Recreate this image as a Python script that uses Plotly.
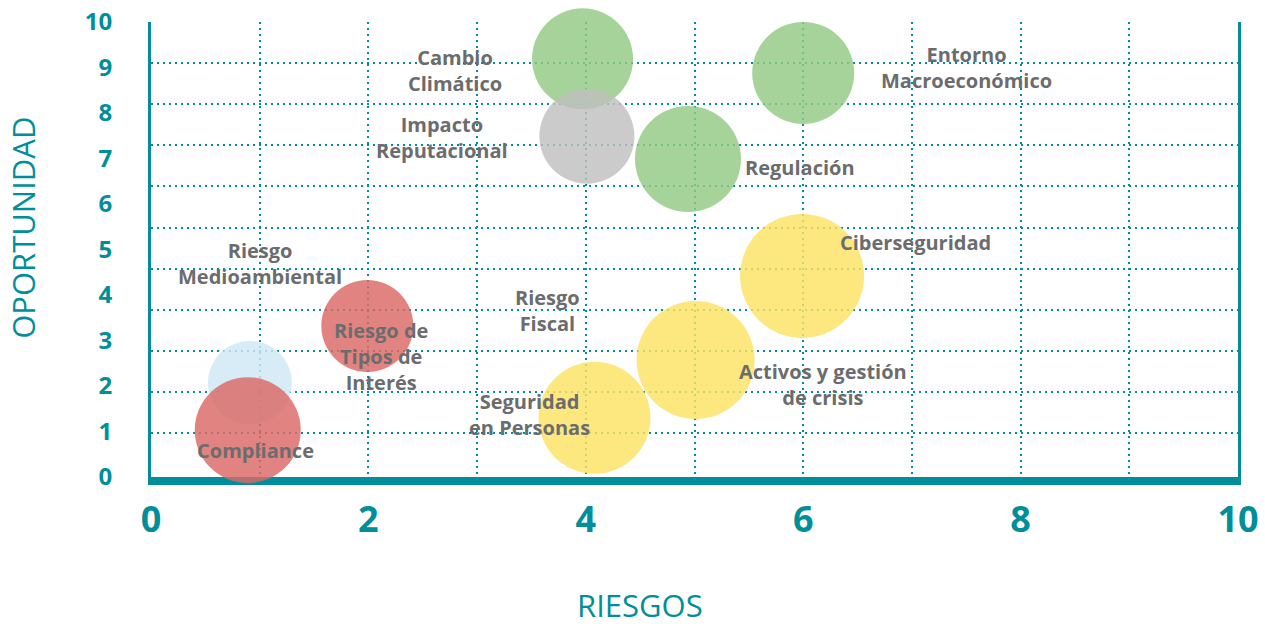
import plotly.graph_objects as go

# ---- data ----
risk_names = ["Riesgo Medioambiental", "Compliance", "Riesgo de Tipos de Interés",
              "Seguridad en Personas", "Activos y gestión de crisis", "Ciberseguridad",
              "Regulación", "Entorno Macroeconómico", "Cambio Climático",
              "Impacto Reputacional"]
riesgos = [0.91, 0.89, 1.99, 4.08, 5.01, 5.99, 4.94, 6.0, 3.97, 4.01]
oportunidad = [2.07, 1.03, 3.32, 1.30, 2.57, 4.42, 6.99, 8.88, 9.19, 7.49]
bubble_size = [84, 106, 92, 112, 118, 124, 106, 102, 101, 95]
group = ["azul", "rojo", "rojo", "amarillo", "amarillo", "amarillo",
         "verde", "verde", "verde", "gris"]

label_text = ["Riesgo<br>Medioambiental", "Compliance", "Riesgo de<br>Tipos de<br>Interés",
              "Seguridad<br>en Personas", "Activos y gestión<br>de crisis", "Ciberseguridad",
              "Regulación", "Entorno<br>Macroeconómico", "Cambio<br>Climático",
              "Impacto<br>Reputacional"]
label_pos = [(1.0, 4.69), (0.96, 0.59), (2.12, 2.64), (3.48, 1.38), (6.18, 2.03),
             (7.03, 5.16), (5.97, 6.81), (7.50, 9.00), (2.80, 8.93), (2.68, 7.47)]
extra_labels = [("Riesgo<br>Fiscal", (3.65, 3.65))]

x_ticks = list(range(0, 11))
x_ticktext = [str(v) if v % 2 == 0 else "" for v in x_ticks]
y_ticks = list(range(0, 11))
grid_rows = list(range(0, 11))

# ---- style ----
TEAL = "#008e9b"
GRAY_TXT = "#6b6c6e"
palette = {"verde": "#92c982", "gris": "#bfbfbf", "amarillo": "#fce263",
           "rojo": "#db6965", "azul": "#d0e8f7"}
DOTS = "2px,4px"

fig = go.Figure()
# empty trace that carries the secondary (grid-only) y axis
fig.add_trace(go.Scatter(x=[None], y=[None], yaxis="y2", mode="markers",
                         showlegend=False, hoverinfo="skip"))
fig.add_trace(go.Scatter(
    x=riesgos, y=oportunidad, mode="markers", text=risk_names,
    hoverinfo="text",
    marker=dict(size=bubble_size, sizemode="diameter", sizeref=1,
                color=[palette[g] for g in group], opacity=0.82,
                line=dict(width=0)),
    cliponaxis=False, showlegend=False))

for txt, (lx, ly) in list(zip(label_text, label_pos)) + extra_labels:
    fig.add_annotation(x=lx, y=ly, xref="x", yref="y", text=txt, showarrow=False,
                       font=dict(family="Open Sans", size=20, color=GRAY_TXT, weight="bold"),
                       align="center")

title_font = dict(family="Open Sans", size=31, color=TEAL)
fig.add_annotation(text="RIESGOS", xref="paper", yref="paper", x=0.45, y=-0.33,
                   showarrow=False, font=title_font, xanchor="center", yanchor="bottom",
                   borderpad=0)
fig.add_annotation(text="OPORTUNIDAD", xref="paper", yref="paper", x=-0.118, y=0.547,
                   showarrow=False, font=title_font, textangle=-90,
                   xanchor="center", yanchor="middle")

fig.update_layout(
    width=1265, height=628,
    margin=dict(l=151, r=27, t=22, b=151),
    paper_bgcolor="white", plot_bgcolor="white",
    xaxis=dict(range=[0, 10], tickvals=x_ticks, ticktext=x_ticktext, automargin=False,
               showgrid=True, gridcolor=TEAL, gridwidth=2, griddash=DOTS,
               zeroline=False, showline=True, linecolor=TEAL, linewidth=8,
               layer="below traces", ticks="", ticklabelstandoff=4,
               tickfont=dict(family="Open Sans", size=36, color=TEAL, weight="bold")),
    yaxis=dict(range=[0, 10], tickvals=y_ticks, showgrid=False, zeroline=False,
               automargin=False,
               showline=True, mirror=True, linecolor=TEAL, linewidth=3,
               layer="below traces", ticks="", ticklabelstandoff=31,
               tickfont=dict(family="Open Sans", size=24, color=TEAL, weight="bold")),
    yaxis2=dict(overlaying="y", anchor="x", side="left", range=[-1.07, 10],
                tickvals=grid_rows,
                showgrid=True, gridcolor=TEAL, gridwidth=2.3, griddash=DOTS,
                automargin=False,
                zeroline=False, showticklabels=False, showline=False, layer="below traces"),
)

fig.write_html("out.html", config={"displayModeBar": False},
               post_script="document.body.style.margin='0';document.body.style.overflow='hidden';")
